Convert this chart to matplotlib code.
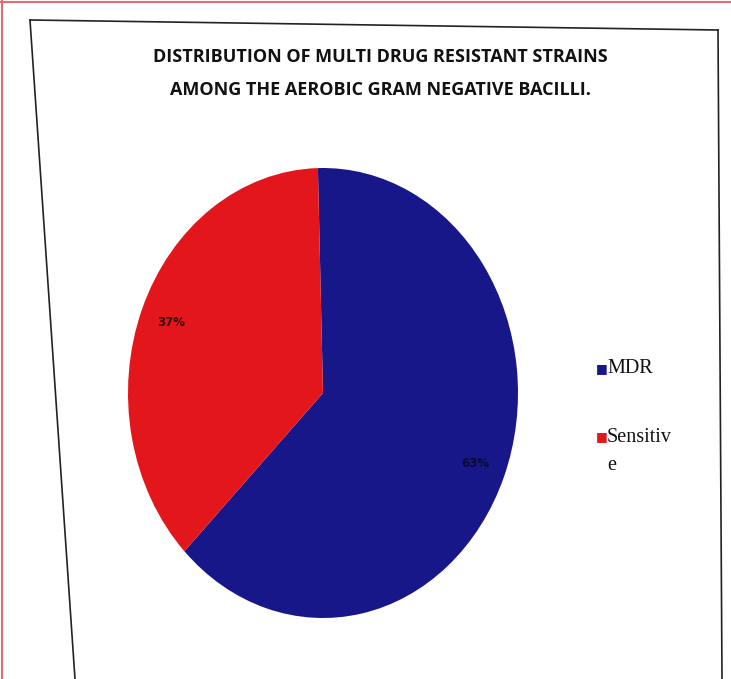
import matplotlib.pyplot as plt
from matplotlib.lines import Line2D

# data
labels = ['MDR', 'Sensitive']
values = [63, 37]
colors = ['#17178a', '#e3161b']
title = 'DISTRIBUTION OF MULTI DRUG RESISTANT STRAINS\nAMONG THE AEROBIC GRAM NEGATIVE BACILLI.'

W, H = 731, 679
fig = plt.figure(figsize=(W / 100, H / 100), dpi=100)
fig.patch.set_facecolor('white')

# scanned page frame (skewed border)
fig.add_artist(Line2D([30 / W, 718 / W], [1 - 20 / H, 1 - 30 / H], color='#222222', lw=1.2))
fig.add_artist(Line2D([30 / W, 75 / W], [1 - 20 / H, 0], color='#222222', lw=1.2))
fig.add_artist(Line2D([718 / W, 722 / W], [1 - 30 / H, 0], color='#222222', lw=1.2))
# thin reddish outer edge of the scan
fig.add_artist(Line2D([0, 1], [1 - 2 / H, 1 - 2 / H], color='#e07070', lw=1.5))
fig.add_artist(Line2D([2 / W, 2 / W], [0, 1], color='#e07070', lw=1.5))

# pie (slightly taller than wide, as in the photo)
left, right, top, bottom = 128, 518, 168, 618
ax = fig.add_axes([left / W, 1 - bottom / H, (right - left) / W, (bottom - top) / H])
wedges, texts, autotexts = ax.pie(values, colors=colors, startangle=91.5, counterclock=False,
                                  autopct='%d%%', pctdistance=0.84,
                                  textprops=dict(fontsize=8.5, fontweight='bold', color='#3a0a0a'))
autotexts[0].set_color('#0a0a30')
ax.set_aspect('auto')
ax.set_xlim(-1, 1)
ax.set_ylim(-1, 1)
ax.axis('off')

fig.text(380 / W, 1 - 73.5 / H, title, ha='center', va='center', fontsize=13,
         fontweight='bold', family='Open Sans', linespacing=2.1, color='#111111')

# legend
fig.text(596 / W, 1 - 369 / H, '\u25a0', fontsize=9, color=colors[0], ha='left', va='center')
fig.text(607 / W, 1 - 369 / H, 'MDR', fontsize=14.5, family='Liberation Serif',
         color='#111111', ha='left', va='center')
fig.text(596 / W, 1 - 437 / H, '\u25a0', fontsize=9, color=colors[1], ha='left', va='center')
fig.text(607 / W, 1 - 437 / H, 'Sensitiv', fontsize=14.5, family='Liberation Serif',
         color='#111111', ha='left', va='center')
fig.text(607 / W, 1 - 466 / H, 'e', fontsize=14.5, family='Liberation Serif',
         color='#111111', ha='left', va='center')

fig.savefig('out.png', dpi=100)
